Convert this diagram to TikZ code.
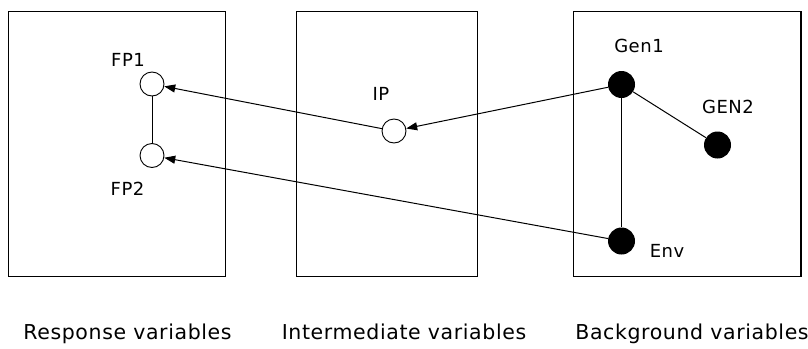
\documentclass[tikz,border=0pt]{standalone}
\usepackage{fontspec}
\newfontfamily\labfont{DejaVu Sans}[LetterSpace=3]
\usetikzlibrary{arrows.meta}
\begin{document}
\begin{tikzpicture}[x=1pt,y=-1pt,
  panel/.style={draw, line width=1.3pt, inner sep=0, rectangle},
  opendot/.style={circle, draw, line width=0.9pt, fill=white, minimum size=24pt, inner sep=0},
  fulldot/.style={circle, fill=black, minimum size=27pt, inner sep=0},
  lab/.style={anchor=base, inner sep=0, font=\labfont\fontsize{18}{20}\selectfont},
  biglab/.style={anchor=base, inner sep=0, font=\labfont\fontsize{20.5}{24}\selectfont},
  link/.style={line width=1pt},
  arr/.style={line width=1pt, -{Triangle[length=11pt,width=8pt]}}
]
\useasboundingbox (0,0) rectangle (808,348);
\node[panel, minimum width=217.5pt, minimum height=264.5pt] (box1) at (117,143.9) {};
\node[panel, minimum width=181pt, minimum height=264.5pt] (box2) at (387.2,143.9) {};
\node[panel, minimum width=227.7pt, minimum height=264.5pt] (box3) at (687.2,143.9) {};

\node[opendot] (fp1) at (152,84) {};
\node[opendot] (fp2) at (152,155.5) {};
\node[opendot] (ip) at (394,131) {};
\node[fulldot] (gen1) at (621.5,84.5) {};
\node[fulldot] (gen2) at (717.5,145) {};
\node[fulldot] (env) at (621.5,241) {};

\node[lab] (fp1l) at (128,66) {FP1};
\node[lab] (fp2l) at (127.5,195) {FP2};
\node[lab] (ipl) at (381,100) {IP};
\node[lab] (gen1l) at (639,52) {Gen1};
\node[lab] (gen2l) at (728,113) {GEN2};
\node[lab] (envl) at (667,257) {Env};

\node[biglab] (resp) at (127.5,339) {Response variables};
\node[biglab] (inter) at (404,339) {Intermediate variables};
\node[biglab] (back) at (692,339) {Background variables};

\draw[link] (fp1) -- (fp2);
\draw[link] (gen1) -- (env);
\draw[link] (gen1) -- (gen2);
\draw[arr] (gen1) -- (ip);
\draw[arr] (ip) -- (fp1);
\draw[arr] (env) -- (fp2);
\end{tikzpicture}
\end{document}
